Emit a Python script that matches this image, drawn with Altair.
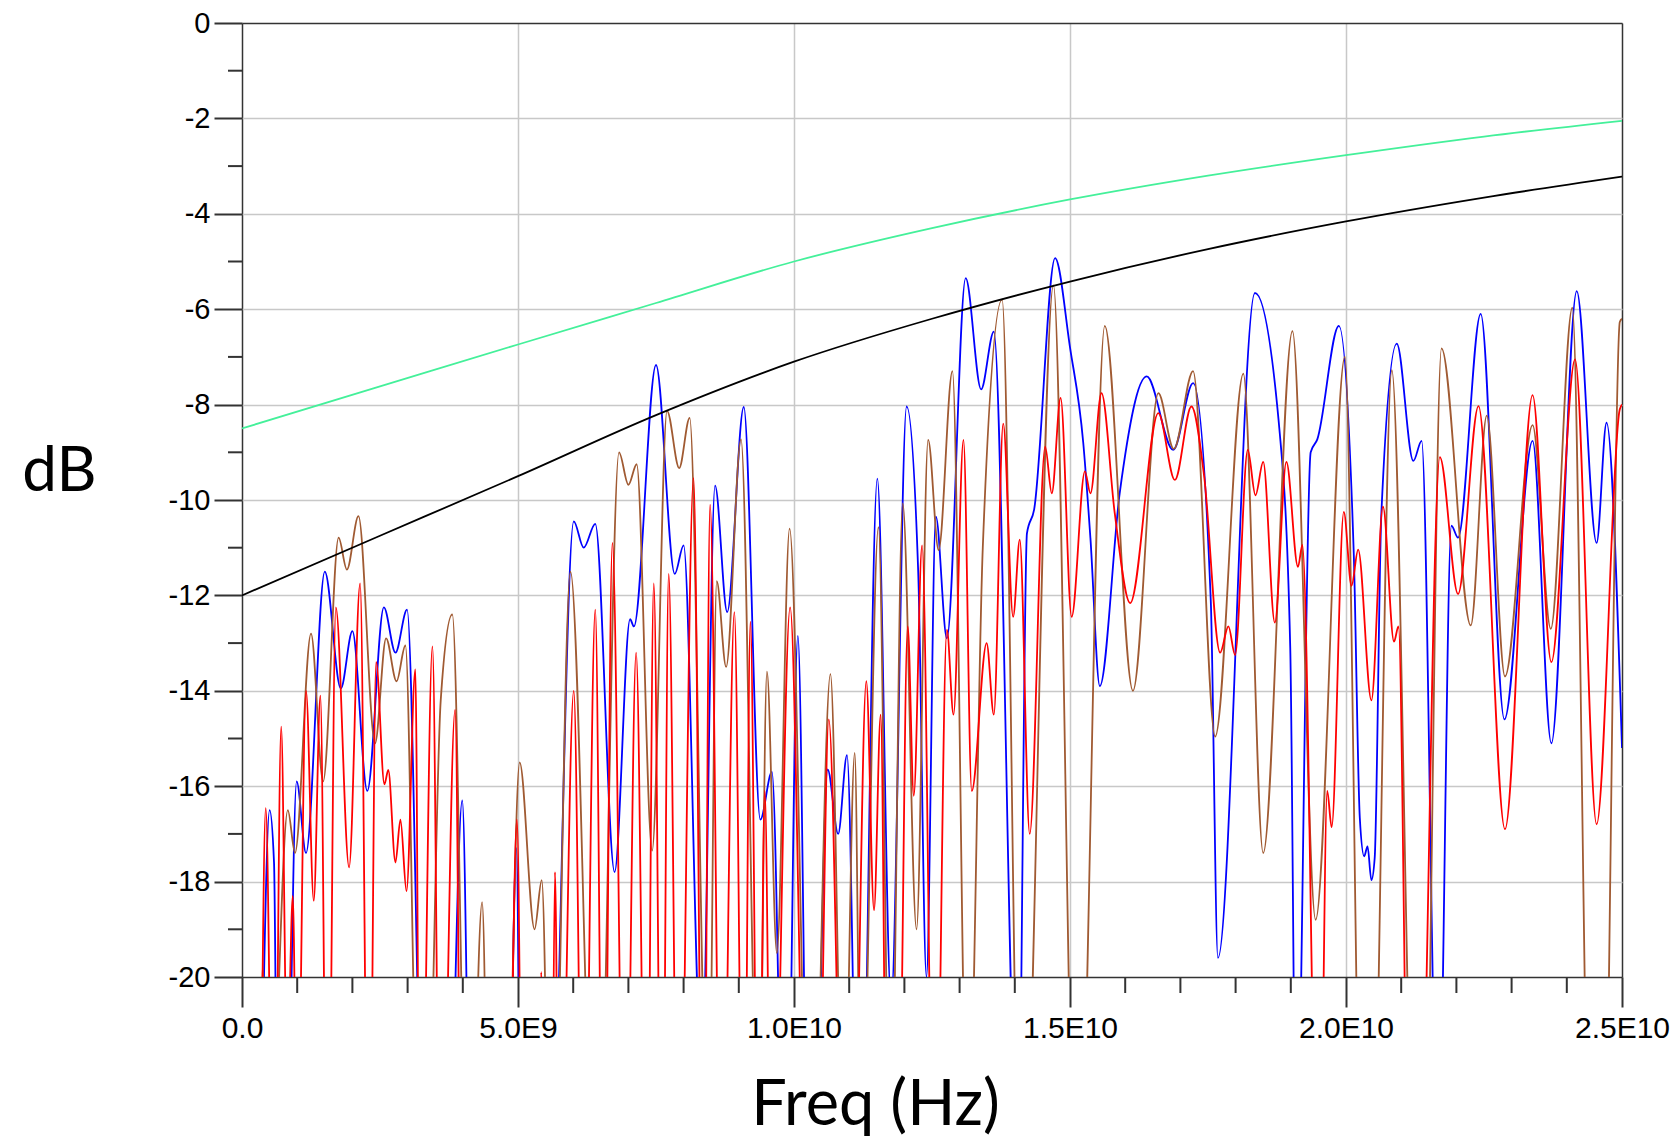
import altair as alt
import pandas as pd

# ---------------- data (frequency in GHz, level in dB) ----------------
F_GREEN = [0, 2.5, 5, 7.5, 10, 12.5, 15, 17.5, 20, 22.5, 25]
DB_GREEN = [-8.5, -7.62, -6.74, -5.87, -5.0, -4.3, -3.7, -3.2, -2.77, -2.38, -2.05]

F_BLACK = [0, 2.5, 5, 7.5, 10, 12.5, 15, 17.5, 20, 22.5, 25]
DB_BLACK = [-12.0, -10.75, -9.5, -8.22, -7.1, -6.2, -5.42, -4.74, -4.16, -3.66, -3.22]

F_BLUE = [0.0, 0.28, 0.5, 0.58, 0.66, 0.78, 0.99, 1.16, 1.5, 1.79, 2.0, 2.27, 2.57, 2.78, 2.99,
          3.33, 3.7, 3.99, 4.17, 4.8, 4.97, 5.07, 5.55, 6.01, 6.19, 6.4, 6.75, 7.03, 7.1, 7.5,
          7.84, 8.0, 8.33, 8.57, 8.79, 9.09, 9.39, 9.6, 9.85, 10.07, 10.28, 10.4, 10.61, 10.8,
          10.96, 11.19, 11.51, 11.76, 12.04, 12.25, 12.4, 12.57, 12.77, 13.11, 13.39, 13.62,
          14.06, 14.22, 14.35, 14.73, 15.0, 15.24, 15.37, 15.54, 15.9, 16.39, 16.87, 17.23,
          17.55, 17.68, 18.35, 18.8, 18.99, 19.1, 19.36, 19.48, 19.87, 20.14, 20.25, 20.33,
          20.39, 20.46, 20.52, 20.64, 20.92, 21.22, 21.37, 21.67, 21.91, 22.03, 22.44, 22.87,
          23.38, 23.72, 24.18, 24.54, 24.72, 25.0]
DB_BLUE = [-30, -26, -16.5, -17.6, -26, -26, -15.9, -17.4, -11.5, -13.95, -12.75, -16.1, -12.25, -13.2, -12.3,
           -26, -26, -16.3, -26, -26, -17.3, -26, -26, -10.45, -11.0, -10.5, -17.8, -12.5, -12.65, -7.17,
           -11.55, -10.95, -22, -9.7, -12.35, -8.05, -16.7, -15.7, -26, -12.85, -26, -24, -15.65, -17.0,
           -15.35, -26, -9.55, -20.5, -8.04, -11.5, -20, -10.35, -12.9, -5.35, -7.68, -6.47,
           -24, -10.7, -10.2, -4.93, -6.8, -8.8, -10.8, -13.9, -9.86, -7.41, -8.95, -7.55,
           -12.1, -19.6, -5.66, -8.6, -13.1, -24, -9.0, -8.73, -6.35, -11.1, -16.66, -17.47,
           -17.26, -17.97, -17.5, -10.3, -6.72, -9.18, -8.76, -24, -10.54, -10.79, -6.1, -14.6,
           -8.76, -15.1, -5.62, -10.9, -8.38, -15.2]

F_BROWN = [0.0, 0.3, 0.37, 0.5, 0.83, 0.96, 1.25, 1.47, 1.75, 1.9, 2.11, 2.41, 2.61, 2.8, 2.96,
           3.2, 3.35, 3.6, 3.81, 4.11, 4.35, 4.5, 4.8, 5.03, 5.3, 5.43, 5.61, 5.95, 6.43, 6.83,
           7.0, 7.15, 7.43, 7.7, 7.92, 8.11, 8.45, 8.6, 8.77, 9.04, 9.36, 9.51, 9.69, 9.92,
           10.31, 10.66, 10.9, 11.1, 11.22, 11.53, 11.75, 11.97, 12.22, 12.43, 12.62, 12.87,
           13.15, 13.42, 13.77, 14.12, 14.7, 15.13, 15.63, 16.14, 16.6, 16.88, 17.23, 17.63,
           18.14, 18.5, 19.03, 19.45, 19.98, 20.31, 20.45, 20.83, 21.28, 21.4, 21.73, 22.26,
           22.55, 22.88, 23.38, 23.71, 24.1, 24.45, 24.65, 24.96, 25.0]
DB_BROWN = [-30, -26, -19.8, -24, -16.5, -17.4, -12.8, -15.9, -10.79, -11.46, -10.34, -15.1, -12.9, -13.8, -13.05,
            -24, -24, -14.2, -12.4, -26, -18.43, -26, -24, -15.5, -19.0, -17.97, -26, -11.5, -26, -9.0,
            -9.68, -9.25, -17.35, -8.13, -9.33, -8.28, -24, -11.7, -13.5, -8.73, -24, -13.6, -19.5, -10.6,
            -26, -13.65, -24, -15.3, -24, -10.57, -24, -10.07, -19, -8.74, -11.05, -7.3,
            -24, -11.0, -5.8, -26, -5.5, -26, -6.35, -14.0, -7.76, -8.93, -7.3, -14.96,
            -7.35, -17.4, -6.46, -18.8, -7.0, -26, -26, -7.28, -26, -26, -6.82, -12.63,
            -8.23, -13.7, -8.43, -12.7, -5.97, -26, -26, -6.27, -6.2]

F_RED = [0.0, 0.3, 0.43, 0.58, 0.71, 0.82, 0.92, 1.0, 1.16, 1.3, 1.42, 1.55, 1.7, 1.94, 2.14,
         2.3, 2.43, 2.58, 2.65, 2.78, 2.87, 2.98, 3.14, 3.23, 3.45, 3.6, 3.86, 3.99, 4.8, 4.98,
         5.1, 5.35, 5.42, 5.5, 5.6, 5.67, 5.75, 6.01, 6.19, 6.4, 6.55, 6.71, 6.94, 7.14, 7.33,
         7.46, 7.61, 7.73, 7.91, 8.18, 8.36, 8.48, 8.69, 8.92, 9.09, 9.21, 9.36, 9.47, 9.6,
         9.93, 10.25, 10.45, 10.63, 10.92, 11.1, 11.31, 11.45, 11.57, 11.7, 11.9, 12.06, 12.17,
         12.32, 12.55, 12.77, 12.89, 13.07, 13.22, 13.49, 13.62, 13.79, 13.97, 14.09, 14.27,
         14.55, 14.67, 14.83, 15.03, 15.27, 15.37, 15.57, 15.81, 16.09, 16.6, 16.9, 17.2,
         17.43, 17.72, 17.87, 17.99, 18.22, 18.36, 18.5, 18.71, 18.92, 19.13, 19.21, 19.51,
         19.66, 19.74, 19.96, 20.1, 20.22, 20.46, 20.67, 20.87, 20.95, 21.16, 21.3, 21.7,
         22.03, 22.4, 22.88, 23.38, 23.72, 24.15, 24.54, 24.96, 25.0]
DB_RED = [-30, -26, -16.46, -26, -14.75, -22, -18.3, -24, -14.0, -18.4, -14.1, -26, -12.25, -17.7, -11.75,
          -26, -13.4, -15.96, -15.66, -17.6, -16.7, -18.2, -13.55, -26, -13.07, -26, -14.4, -26, -26, -16.7,
          -26, -26, -19.9, -26, -26, -17.8, -26, -14.0, -26, -12.3, -26, -10.9, -26, -13.2, -26,
          -11.75, -26, -11.55, -26, -9.54, -26, -10.1, -26, -12.35, -26, -12.55, -26, -16.1, -26,
          -12.25, -26, -24, -14.6, -26, -24, -13.8, -18.6, -14.5, -26, -24, -12.65, -16.2,
          -10.95, -26, -12.72, -14.5, -8.74, -16.1, -13.0, -14.5, -8.4, -12.45, -10.83, -17.0,
          -8.88, -9.86, -7.86, -12.45, -9.4, -9.86, -7.76, -10.27, -12.16, -8.18, -9.58, -8.04,
          -9.5, -13.2, -12.65, -13.25, -8.95, -9.9, -9.2, -12.57, -9.2, -11.4, -10.94, -26,
          -16.1, -16.86, -10.25, -11.8, -11.04, -14.2, -10.14, -12.97, -12.65, -26, -26, -9.1,
          -11.97, -8.03, -16.9, -7.8, -13.4, -7.05, -16.8, -8.1, -8.0]

SERIES = ["blue", "brown", "red", "black", "green"]
COLORS = ["#0000ff", "#a05a32", "#ff0000", "#000000", "#44f09a"]
WIDTHS = [1.8, 1.8, 1.6, 2.2, 1.7]

X_MAJOR = [0, 5e9, 10e9, 15e9, 20e9, 25e9]
X_LABELS = ["0.0", "5.0E9", "1.0E10", "1.5E10", "2.0E10", "2.5E10"]
X_MINOR = [g * 1e9 for g in range(1, 25) if g % 5 != 0]
Y_MAJOR = [0, -2, -4, -6, -8, -10, -12, -14, -16, -18, -20]
Y_LABELS = ["0", "-2", "-4", "-6", "-8", "-10", "-12", "-14", "-16", "-18", "-20"]
Y_MINOR = [-1, -3, -5, -7, -9, -11, -13, -15, -17, -19]

# ---------------- build table ----------------
rows = []
for name, fs, dbs in [("blue", F_BLUE, DB_BLUE), ("brown", F_BROWN, DB_BROWN),
                      ("red", F_RED, DB_RED), ("black", F_BLACK, DB_BLACK),
                      ("green", F_GREEN, DB_GREEN)]:
    for i, (f, d) in enumerate(zip(fs, dbs)):
        rows.append({"series": name, "freq": f * 1e9, "db": d, "i": i})
df = pd.DataFrame(rows)

W, H = 1380, 954
FRAME = "#333333"
GRID = "#c8c8c8"

xscale = alt.Scale(domain=[0, 25e9], nice=False, zero=False)
yscale = alt.Scale(domain=[-20, 0], nice=False, zero=False)

x_label_expr = "[" + ",".join("'%s'" % s for s in X_LABELS) + "][round(datum.value/5e9)]"
y_label_expr = "[" + ",".join("'%s'" % s for s in Y_LABELS) + "][round(-datum.value/2)]"

x_axis = alt.Axis(
    values=X_MAJOR, labelExpr=x_label_expr, grid=True,
    gridColor={"condition": {"test": "datum.value <= 0 || datum.value >= 25e9", "value": FRAME}, "value": GRID},
    gridWidth=1.5, tickSize=30, tickWidth=2, tickColor=FRAME, domain=False,
    labelFont="Liberation Sans", labelFontSize=30, labelColor="#000000", labelPadding=6,
    labelFlush=False, labelOverlap=False,
    title="Freq (Hz)", titleFont="Lato", titleFontSize=63, titleFontWeight="normal",
    titleColor="#000000", titleX=633, titleY=147, titleAlign="center", titleBaseline="alphabetic",
)
y_axis = alt.Axis(
    values=Y_MAJOR, labelExpr=y_label_expr, grid=True,
    gridColor={"condition": {"test": "datum.value <= -20 || datum.value >= 0", "value": FRAME}, "value": GRID},
    gridWidth=1.5, tickSize=28, tickWidth=2, tickColor=FRAME, domain=False,
    labelFont="Liberation Sans", labelFontSize=29, labelColor="#000000", labelPadding=4,
    labelFlush=False, labelOverlap=False, labelBaseline="middle",
    title="dB", titleFont="Lato", titleFontSize=62, titleFontWeight="normal", titleColor="#000000",
    titleAngle=0, titleX=-183, titleY=448, titleAlign="center", titleBaseline="middle",
)

lines = alt.Chart(df).mark_line(interpolate="monotone", clip=True).encode(
    x=alt.X("freq:Q", scale=xscale, axis=x_axis),
    y=alt.Y("db:Q", scale=yscale, axis=y_axis),
    color=alt.Color("series:N", scale=alt.Scale(domain=SERIES, range=COLORS), legend=None),
    strokeWidth=alt.StrokeWidth("series:N", scale=alt.Scale(domain=SERIES, range=WIDTHS), legend=None),
    order=alt.Order("i:Q"),
    detail="series:N",
)

ytick_df = pd.DataFrame({"db": Y_MINOR})
xtick_df = pd.DataFrame({"freq": X_MINOR})

ytick = alt.Chart(ytick_df).mark_rule(color=FRAME, strokeWidth=2).encode(
    y=alt.Y("db:Q", scale=yscale, axis=y_axis),
    x=alt.value(-14), x2=alt.value(0),
)
xtick = alt.Chart(xtick_df).mark_rule(color=FRAME, strokeWidth=2).encode(
    x=alt.X("freq:Q", scale=xscale, axis=x_axis),
    y=alt.value(H), y2=alt.value(H + 16),
)

chart = alt.layer(lines, ytick, xtick).properties(
    width=W, height=H,
    autosize=alt.AutoSizeParams(type="none"),
    padding={"left": 242, "top": 23, "right": 56, "bottom": 160},
).configure_view(stroke=FRAME, strokeWidth=2).configure(background="#ffffff")

chart.save("out.html", embed_options={"renderer": "svg", "actions": False})
